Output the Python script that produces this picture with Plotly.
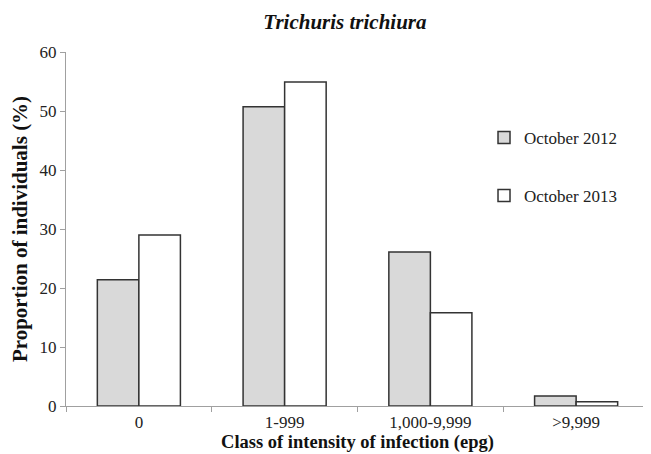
import plotly.graph_objects as go

categories = ["0", "1-999", "1,000-9,999", ">9,999"]
oct_2012 = [21.4, 50.7, 26.1, 1.7]
oct_2013 = [29.0, 54.9, 15.8, 0.7]
series_names = ["October 2012", "October 2013"]

font_family = "Liberation Serif, Times New Roman, serif"

fig = go.Figure()
fig.add_trace(go.Bar(x=categories, y=oct_2012, name=series_names[0], legendgroup="a",
                     marker=dict(color="#d9d9d9", line=dict(color="#333333", width=1.5))))
fig.add_trace(go.Bar(x=categories, y=oct_2013, name=series_names[1], legendgroup="b",
                     marker=dict(color="#ffffff", line=dict(color="#333333", width=1.5))))

fig.update_layout(
    width=643, height=446,
    margin=dict(l=58, r=2, t=44, b=48),
    paper_bgcolor="white", plot_bgcolor="white",
    font=dict(family=font_family, size=17, color="#222222"),
    title=dict(text="<b><i>Trichuris trichiura</i></b>", x=0.524, xanchor="center",
               y=0.969, yanchor="middle", font=dict(size=21, color="#111111")),
    barmode="group", bargap=0.43, bargroupgap=0,
    legend=dict(x=0.717, y=0.808, xanchor="left", yanchor="top", bgcolor="rgba(0,0,0,0)",
                tracegroupgap=33, itemwidth=30, font=dict(size=17, color="#222222")),
    xaxis=dict(type="category", showline=True, linecolor="#a0a0a0", linewidth=1.3,
               ticks="outside", tickson="boundaries", ticklen=5, tickcolor="#a0a0a0",
               showgrid=False, tickfont=dict(size=17),
               title=dict(text="<b>Class of intensity of infection (epg)</b>", standoff=2,
                          font=dict(size=18.5, color="#111111"))),
    yaxis=dict(range=[0, 60], tickvals=[0, 10, 20, 30, 40, 50, 60], showline=True,
               linecolor="#a0a0a0", linewidth=1.3, ticks="outside", ticklen=5,
               tickcolor="#a0a0a0", showgrid=False, zeroline=False, tickfont=dict(size=17),
               title=dict(text="<b>Proportion of individuals (%)</b>", standoff=8,
                          font=dict(size=21, color="#111111"))),
)

fig.write_html("out.html")
